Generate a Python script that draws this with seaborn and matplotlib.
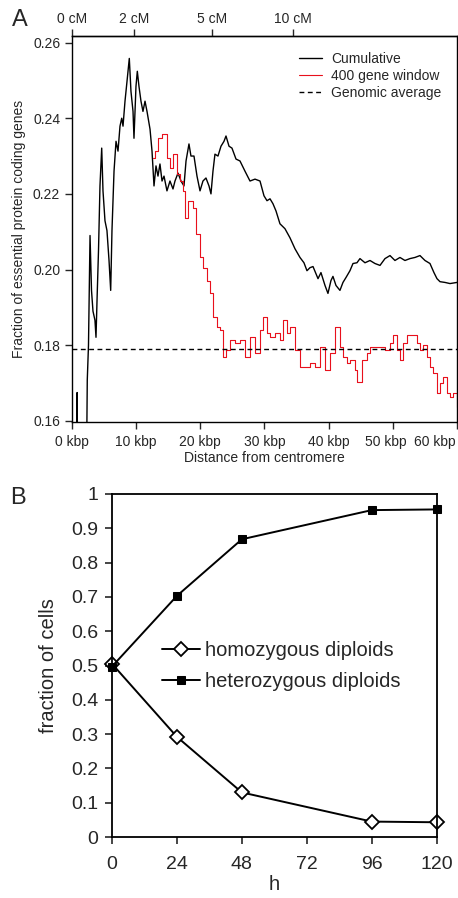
import matplotlib
matplotlib.use("Agg")
import matplotlib.pyplot as plt
import matplotlib.transforms as mtransforms
import seaborn as sns
import pandas as pd

# ---- panel A: essential gene fraction vs distance from centromere ----
cum_kbp = [0.75, 0.8, 0.85, 2.3, 2.38, 2.57, 2.81, 3.04, 3.27, 3.58, 3.74, 3.90, 4.13, 4.36,
           4.63, 4.83, 5.14, 5.45, 5.77, 6.03, 6.23, 6.55, 6.86, 7.17, 7.48, 7.75, 7.95,
           8.26, 8.57, 8.93, 9.19, 9.51, 9.66, 9.97, 10.18, 10.44, 10.75, 11.06, 11.38,
           11.69, 12.16, 12.47, 12.78, 13.09, 13.40, 13.71, 14.03, 14.34, 14.80, 15.27,
           15.74, 16.05, 16.52, 16.99, 17.45, 17.77, 18.23, 18.54, 19.01, 19.48, 19.95,
           20.41, 20.88, 21.35, 21.66, 21.97, 22.28, 22.75, 23.22, 23.69, 24.0, 24.47,
           24.93, 25.56, 26.18, 26.96, 27.74, 28.52, 29.30, 29.92, 30.39, 30.86, 31.32,
           31.79, 32.41, 33.19, 33.97, 34.75, 35.53, 36.15, 36.62, 37.09, 37.56, 38.34,
           38.80, 39.43, 39.89, 40.36, 40.67, 41.14, 41.76, 42.23, 42.70, 43.32, 43.79,
           44.41, 44.88, 45.66, 46.44, 47.22, 48.0, 48.78, 49.56, 50.33, 51.11, 51.89,
           52.67, 53.45, 54.23, 55.01, 55.79, 56.41, 56.88, 57.35, 58.13, 58.91, 60.0]
cum_frac = [0.155, 0.1675, 0.155, 0.155, 0.1708, 0.180, 0.209, 0.1945, 0.189, 0.1866, 0.1821,
            0.1918, 0.205, 0.2221, 0.2321, 0.2208, 0.2129, 0.2103, 0.2024, 0.1945, 0.2103,
            0.226, 0.2339, 0.2313, 0.2379, 0.240, 0.2379, 0.2445, 0.2497, 0.2558, 0.2471,
            0.2418, 0.2347, 0.2484, 0.2524, 0.2484, 0.2445, 0.2418, 0.2445, 0.2418, 0.2371,
            0.2313, 0.2221, 0.2274, 0.2247, 0.2279, 0.2234, 0.2247, 0.2208, 0.2234, 0.2213,
            0.2234, 0.2255, 0.2234, 0.2221, 0.2287, 0.2332, 0.230, 0.230, 0.2247, 0.2208,
            0.2234, 0.2242, 0.2221, 0.220, 0.226, 0.2305, 0.230, 0.2326, 0.2339, 0.2353,
            0.2326, 0.2321, 0.2292, 0.2287, 0.226, 0.2234, 0.2239, 0.2234, 0.2195, 0.2182,
            0.2187, 0.2174, 0.2155, 0.2121, 0.2108, 0.2084, 0.2055, 0.2032, 0.2018, 0.1997,
            0.2005, 0.2008, 0.1976, 0.1992, 0.1958, 0.1937, 0.1971, 0.1982, 0.1958, 0.1945,
            0.1966, 0.1979, 0.1997, 0.2016, 0.2018, 0.2029, 0.2018, 0.2024, 0.2016, 0.2011,
            0.2029, 0.2037, 0.2024, 0.2032, 0.2024, 0.2029, 0.2032, 0.2037, 0.2024, 0.2016,
            0.1992, 0.1976, 0.1968, 0.1966, 0.1963, 0.1966]

win_kbp = [12.62, 12.93, 13.40, 14.03, 14.49, 14.80, 15.27, 15.74, 16.36, 16.83, 17.30,
           17.61, 18.08, 18.54, 18.86, 19.32, 19.95, 20.41, 21.04, 21.51, 21.97, 22.60,
           23.06, 23.53, 24.00, 24.62, 25.40, 26.18, 26.96, 27.74, 28.52, 29.30, 29.76,
           30.39, 30.86, 31.63, 32.41, 32.88, 33.50, 33.97, 34.75, 35.53, 36.31, 37.09,
           37.87, 38.65, 39.43, 40.21, 40.98, 41.76, 42.23, 42.85, 43.32, 44.10, 44.41,
           45.19, 45.97, 46.44, 47.22, 48.0, 48.78, 49.56, 50.02, 50.65, 51.11, 51.58,
           52.20, 52.98, 53.76, 54.23, 54.70, 55.32, 55.79, 56.26, 56.88, 57.35, 57.81,
           58.44, 58.91, 59.38, 60.0]
win_frac = [0.2295, 0.2313, 0.2347, 0.2358, 0.2358, 0.2295, 0.2268, 0.2305, 0.2253, 0.2234,
            0.2208, 0.2137, 0.2182, 0.2182, 0.2163, 0.2095, 0.2032, 0.2005, 0.1971, 0.1937,
            0.1874, 0.1847, 0.1839, 0.1768, 0.1787, 0.1813, 0.1805, 0.1813, 0.1768, 0.1821,
            0.1779, 0.1839, 0.1874, 0.1832, 0.1821, 0.1832, 0.1813, 0.1866, 0.1832, 0.1847,
            0.1787, 0.1742, 0.1742, 0.1753, 0.1742, 0.1795, 0.1734, 0.1779, 0.1847, 0.1795,
            0.1768, 0.1753, 0.1761, 0.1734, 0.1703, 0.1761, 0.1779, 0.1795, 0.1795, 0.1795,
            0.1787, 0.1805, 0.1826, 0.1787, 0.1761, 0.1805, 0.1826, 0.1826, 0.1805, 0.1787,
            0.180, 0.1768, 0.1742, 0.1726, 0.1674, 0.170, 0.1716, 0.1674, 0.1663, 0.1674,
            0.1637]

genomic_avg = 0.179
kbp_ticks = [0, 10, 20, 30, 40, 50, 60]
kbp_labels = ["0 kbp", "10 kbp", "20 kbp", "30 kbp", "40 kbp", "50 kbp", "60 kbp"]
cm_kbp = [0, 9.7, 21.8, 34.4]
cm_labels = ["0 cM", "2 cM", "5 cM", "10 cM"]
frac_ticks = [0.16, 0.18, 0.20, 0.22, 0.24, 0.26]

# ---- panel B: fraction of cells over time ----
hours = [0, 24, 48, 96, 120]
homozygous = [0.505, 0.292, 0.130, 0.045, 0.043]
heterozygous = [0.497, 0.703, 0.868, 0.953, 0.955]
hour_ticks = [0, 24, 48, 72, 96, 120]
cell_ticks = [0, 0.1, 0.2, 0.3, 0.4, 0.5, 0.6, 0.7, 0.8, 0.9, 1.0]

sns.set_style("ticks")
plt.rcParams["font.family"] = ["Liberation Sans", "DejaVu Sans"]
plt.rcParams["axes.linewidth"] = 1.0

fig = plt.figure(figsize=(4.58, 8.98), dpi=100)

# panel A
axA = fig.add_axes([0.1572, 0.530, 0.8406, 0.4298])
cum = pd.DataFrame({"kbp": cum_kbp, "frac": cum_frac})
win = pd.DataFrame({"kbp": win_kbp, "frac": win_frac})
sns.lineplot(data=cum, x="kbp", y="frac", ax=axA, color="black", lw=1.0,
             estimator=None, sort=False, label="Cumulative")
sns.lineplot(data=win, x="kbp", y="frac", ax=axA, color="#e8101c", lw=0.8,
             estimator=None, sort=False, drawstyle="steps-post", label="400 gene window")
axA.axhline(genomic_avg, color="black", lw=1.0, ls=(0, (3.5, 2.5)), label="Genomic average")
axA.set_xlim(0, 60)
axA.set_ylim(0.1597, 0.2617)
axA.set_xticks(kbp_ticks, labels=kbp_labels)
axA.set_yticks(frac_ticks, labels=[f"{v:.2f}" for v in frac_ticks])
axA.tick_params(labelsize=10, width=1, length=5)
axA.tick_params(axis="x", pad=4)
# nudge the two crowded labels at the right edge, like the original
xlabs = axA.get_xticklabels()
xlabs[-2].set_transform(xlabs[-2].get_transform() +
                        mtransforms.ScaledTranslation(-0.07, 0, fig.dpi_scale_trans))
xlabs[-1].set_horizontalalignment("right")
xlabs[-1].set_transform(xlabs[-1].get_transform() +
                        mtransforms.ScaledTranslation(-0.01, 0, fig.dpi_scale_trans))
axA.set_xlabel("Distance from centromere", fontsize=10, labelpad=2)
axA.set_ylabel("Fraction of essential protein coding genes", fontsize=10, labelpad=5)
top = axA.secondary_xaxis("top")
top.set_xticks(cm_kbp, labels=cm_labels)
top.tick_params(labelsize=10, width=1, length=5, pad=2)
for s in axA.spines.values():
    s.set_visible(True)
    s.set_color("black")
axA.legend(loc="upper right", frameon=False, fontsize=10, handlelength=1.65,
           handletextpad=0.65, labelspacing=0.22, borderaxespad=0.75,
           bbox_to_anchor=(1.0, 1.0))
fig.text(0.026, 0.978, "A", fontsize=17, va="center", ha="left")

# panel B
axB = fig.add_axes([0.2445, 0.0679, 0.709, 0.382])
sns.lineplot(x=hours, y=homozygous, ax=axB, color="black", lw=1.4, marker="D",
             markersize=7, markerfacecolor="white", markeredgecolor="black",
             markeredgewidth=1.3, label="homozygous diploids")
sns.lineplot(x=hours, y=heterozygous, ax=axB, color="black", lw=1.4, marker="s",
             markersize=6, markerfacecolor="black", markeredgecolor="black",
             label="heterozygous diploids")
axB.set_xlim(0, 120)
axB.set_ylim(0, 1)
axB.set_xticks(hour_ticks)
axB.set_yticks(cell_ticks, labels=[f"{v:g}" for v in cell_ticks])
axB.tick_params(labelsize=14, width=1.2, length=5)
axB.tick_params(axis="x", pad=9)
axB.tick_params(axis="y", pad=5)
axB.set_xlabel("h", fontsize=14.5, labelpad=1)
axB.set_ylabel("fraction of cells", fontsize=14.5, labelpad=9)
for s in axB.spines.values():
    s.set_visible(True)
    s.set_color("black")
    s.set_linewidth(1.3)
for ln in axB.lines:
    ln.set_clip_on(False)
axB.legend(loc="upper left", bbox_to_anchor=(0.155, 0.572), frameon=False,
           fontsize=14.5, handlelength=1.85, handletextpad=0.25, labelspacing=0.6,
           borderaxespad=0, borderpad=0)
fig.text(0.022, 0.4454, "B", fontsize=17, va="center", ha="left")

fig.savefig("out.png", dpi=100)
